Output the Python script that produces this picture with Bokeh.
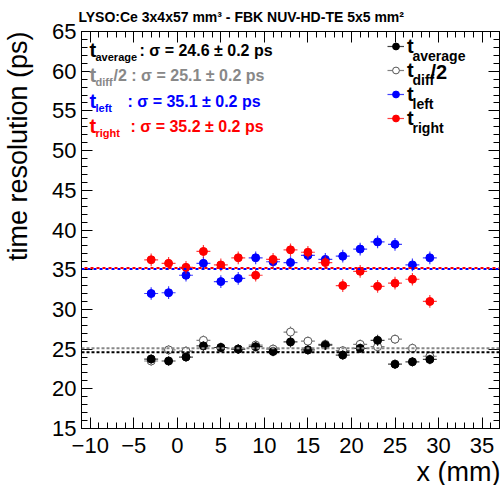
import math
from bokeh.plotting import figure
from bokeh.layouts import row
from bokeh.models import (Range1d, LinearAxis, SingleIntervalTicker, Span, Label, Title,
                          Legend, LegendItem, ColumnDataSource, CustomLabelingPolicy)
from bokeh.embed import file_html
from bokeh.resources import INLINE

# ---------------- data ----------------
x_mm = [-3, -1, 1, 3, 5, 7, 9, 11, 13, 15, 17, 19, 21, 23, 25, 27, 29]
x_err = [0.8, 0.8, 0.8, 0.8, 0.8, 0.8, 0.8, 0.8, 0.8, 0.8, 0.8, 0.8, 0.8, 0.8, 0.8, 0.8, 0.8]

t_average = [23.75, 23.5, 24.0, 25.4, 25.2, 25.0, 25.3, 24.7, 25.9, 24.9, 25.5, 24.25, 25.1, 26.1, 23.1, 23.4, 23.7]
t_average_err = [0.6, 0.6, 0.6, 0.6, 0.6, 0.6, 0.6, 0.6, 0.7, 0.6, 0.6, 0.6, 0.6, 0.7, 0.6, 0.6, 0.6]

t_diff_half = [23.5, 24.9, 24.75, 26.1, 25.2, 25.0, 25.5, 25.0, 27.15, 26.0, 25.6, 24.8, 25.6, 25.3, 26.25, 25.1, 24.1]
t_diff_half_err = [0.6, 0.6, 0.6, 0.6, 0.6, 0.6, 0.6, 0.6, 0.7, 0.6, 0.6, 0.6, 0.6, 0.7, 0.6, 0.6, 0.6]

t_left = [32.0, 32.1, 34.3, 35.8, 33.5, 33.9, 36.5, 36.0, 35.9, 36.8, 36.3, 36.7, 37.6, 38.5, 38.2, 35.6, 36.5]
t_left_err = [0.8, 0.8, 0.8, 0.8, 0.8, 0.8, 0.8, 0.8, 0.8, 0.8, 0.8, 0.8, 0.8, 0.8, 0.8, 0.8, 0.8]

t_right = [36.25, 35.8, 35.3, 37.3, 35.6, 36.5, 34.3, 36.3, 37.5, 37.2, 35.9, 33.0, 34.8, 32.9, 33.3, 33.8, 31.0]
t_right_err = [0.8, 0.8, 0.8, 0.8, 0.8, 0.8, 0.8, 0.8, 0.8, 0.8, 0.8, 0.8, 0.8, 0.8, 0.8, 0.8, 0.8]

fit_average = 24.6
fit_diff_half = 25.1
fit_left = 35.1
fit_right = 35.2
fit_err = 0.2

x_tick_overrides = {-10: "\u221210", -5: "\u22125"}

FONT = "Liberation Sans"
BLACK = "#000000"
GRAY = "#888888"
BLUE = "#0000ff"
RED = "#ff0000"

LEFT_STRIP = 36  # width of the strip holding the y-axis title
FL, FT, FB = 81, 31, 428  # frame left / top / bottom in canvas pixels

# ---------------- y-axis title strip ----------------
ylab = figure(width=LEFT_STRIP, height=485, output_backend="svg", toolbar_location=None,
              x_range=Range1d(0, 1), y_range=Range1d(0, 1),
              min_border=0, min_border_left=0, min_border_right=0,
              min_border_top=0, min_border_bottom=0,
              x_axis_location=None, y_axis_location=None)
ylab.xgrid.visible = False
ylab.ygrid.visible = False
ylab.outline_line_color = None
ylab.background_fill_color = "white"
ylab.border_fill_color = "white"
# frames of plots in a row are aligned, so the strip's frame spans FT..FB
ylab.add_layout(Label(x=17, y=FB - FT, x_units="screen", y_units="screen",
                      text="time resolution (ps)", text_font=FONT,
                      text_font_size="27px", text_font_style="normal", text_color="black",
                      text_align="right", text_baseline="middle", angle=math.pi / 2))

# ---------------- main figure ----------------
p = figure(width=500 - LEFT_STRIP, height=485, output_backend="svg", toolbar_location=None,
           x_range=Range1d(-11, 37), y_range=Range1d(15, 65),
           min_border_left=FL - LEFT_STRIP, min_border_right=1, min_border_top=FT,
           min_border_bottom=485 - FB,
           x_axis_location=None, y_axis_location=None,
           title="LYSO:Ce 3x4x57 mm\u00b3 - FBK NUV-HD-TE 5x5 mm\u00b2")
p.title.align = "left"
p.title.offset = -3
p.title.text_font = FONT
p.title.text_font_size = "14px"
p.title.text_font_style = "bold"
p.title.text_color = "black"
p.title.standoff = 13
p.xgrid.visible = False
p.ygrid.visible = False
p.outline_line_color = "black"
p.outline_line_width = 1
p.background_fill_color = "white"
p.border_fill_color = "white"

HIDE = """
try { return new indices.constructor(indices.size) } catch (e) { return indices }
"""


def make_axis(show_labels, xaxis=True):
    ax = LinearAxis(ticker=SingleIntervalTicker(interval=5, num_minor_ticks=5))
    ax.major_tick_in = 11
    ax.major_tick_out = 0
    ax.minor_tick_in = 6
    ax.minor_tick_out = 0
    ax.axis_line_color = "black"
    ax.major_tick_line_color = "black"
    ax.minor_tick_line_color = "black"
    if show_labels:
        ax.major_label_text_font = FONT
        ax.major_label_text_font_size = "22px"
        ax.major_label_text_color = "black"
        ax.major_label_standoff = 9 if xaxis else 5
    else:
        ax.major_label_text_font_size = "0px"
        ax.major_label_standoff = 0
        ax.major_label_policy = CustomLabelingPolicy(code=HIDE)
    return ax


bottom = make_axis(True, True)
bottom.major_label_overrides = x_tick_overrides
p.add_layout(bottom, "below")

left = make_axis(True, False)
p.add_layout(left, "left")

p.add_layout(make_axis(False), "above")
p.add_layout(make_axis(False), "right")

# x-axis title (ROOT style: aligned to the end of the axis)
p.add_layout(Title(text="x (mm)", align="right", offset=-1, standoff=-2,
                   text_font=FONT, text_font_size="27px", text_font_style="normal",
                   text_color="black"), "below")

# fit lines
p.add_layout(Span(location=fit_average, dimension="width", line_color=BLACK,
                  line_width=2, line_dash="3 2"))
p.add_layout(Span(location=fit_diff_half, dimension="width", line_color=GRAY,
                  line_width=2, line_dash="3 2"))
p.add_layout(Span(location=fit_left, dimension="width", line_color=BLUE,
                  line_width=2, line_dash="3 3"))
p.add_layout(Span(location=fit_right, dimension="width", line_color=RED,
                  line_width=2, line_dash="3 3", line_dash_offset=3))


def series(yvals, yerr, color, fill, line_col, alpha_err=0.75):
    src = ColumnDataSource(dict(
        x=x_mm, y=yvals,
        xl=[a - e for a, e in zip(x_mm, x_err)], xr=[a + e for a, e in zip(x_mm, x_err)],
        yl=[a - e for a, e in zip(yvals, yerr)], yh=[a + e for a, e in zip(yvals, yerr)]))
    h = p.segment(x0="xl", x1="xr", y0="y", y1="y", source=src, line_color=color,
                  line_width=1.2, line_alpha=alpha_err)
    v = p.segment(x0="x", x1="x", y0="yl", y1="yh", source=src, line_color=color,
                  line_width=1.2, line_alpha=alpha_err)
    s = p.scatter(x="x", y="y", source=src, marker="circle", size=8,
                  fill_color=fill, line_color=line_col, line_width=1)
    return [h, s]


r_diff = series(t_diff_half, t_diff_half_err, "#555555", "white", "#555555")
r_avg = series(t_average, t_average_err, BLACK, BLACK, BLACK)
r_left = series(t_left, t_left_err, BLUE, BLUE, BLUE)
r_right = series(t_right, t_right_err, RED, RED, RED)

legend = Legend(items=[LegendItem(label="t", renderers=r_avg),
                       LegendItem(label="t", renderers=r_diff),
                       LegendItem(label="t", renderers=r_left),
                       LegendItem(label="t", renderers=r_right)],
                location=(306, 298), orientation="vertical",
                glyph_width=17, glyph_height=24, label_height=24, spacing=0, padding=0,
                margin=0, label_standoff=3,
                label_text_font=FONT, label_text_font_style="bold",
                label_text_font_size="20px", label_text_color="black",
                border_line_alpha=0, background_fill_alpha=0)
p.add_layout(legend)


# ---------------- text helpers (canvas pixel -> frame screen units) ----------------
def lab(text, cx, cy, size, color, bold=True, align="left", angle=0.0):
    p.add_layout(Label(x=cx - FL, y=FB - cy, x_units="screen", y_units="screen",
                       text=text, text_font=FONT,
                       text_font_style="bold" if bold else "normal",
                       text_font_size=f"{size}px", text_color=color,
                       text_align=align, text_baseline="middle", angle=angle))


# legend subscripts
lab("average", 412, 55, 14, BLACK)
lab("diff", 412, 79, 14, BLACK)
lab("/2", 430, 71, 20, BLACK)
lab("left", 412, 103, 14, BLACK)
lab("right", 412, 127, 14, BLACK)

# fit result annotations
rows = [("average", fit_average, BLACK, 49, 139, ": "),
        ("diff", fit_diff_half, GRAY, 74, 113, "/2 : "),
        ("left", fit_left, BLUE, 100, 127, ": "),
        ("right", fit_right, RED, 125, 130, ": ")]
for sub, val, col, cy, rx, pre in rows:
    lab("t", 89, cy, 20, col)
    lab(sub, 95, cy + 7, 11, col)
    lab(f"{pre}\u03c3 = {val:.1f} \u00b1 {fit_err:.1f} ps", rx, cy + 1, 16, col)

layout = row(ylab, p, spacing=0)
open("out.html", "w").write(file_html(layout, INLINE))
